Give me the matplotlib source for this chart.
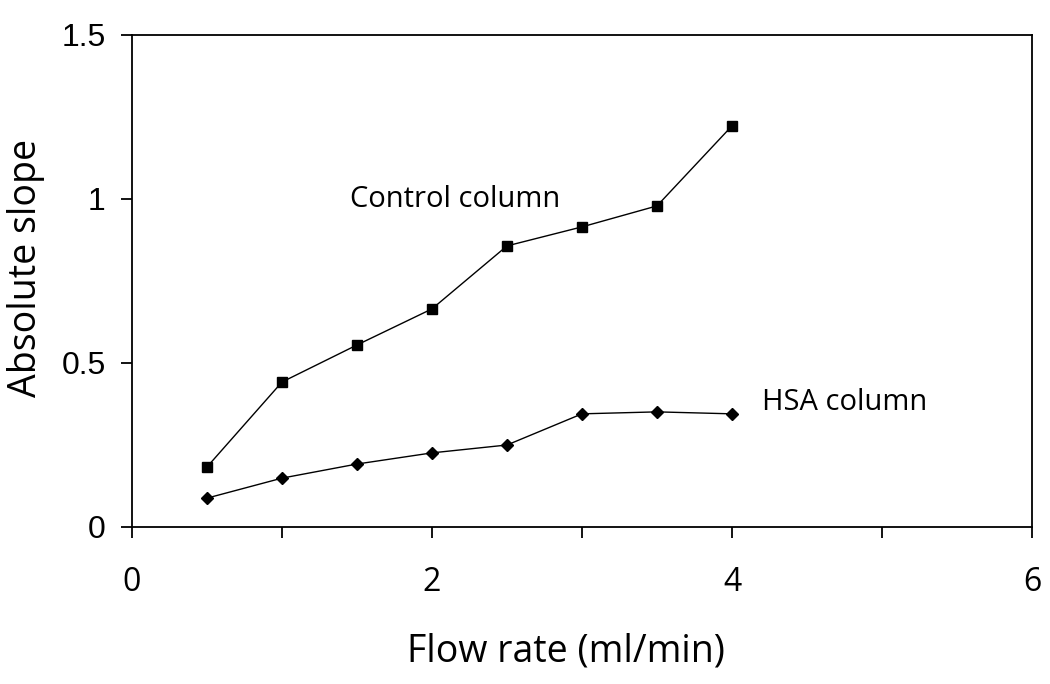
import matplotlib

matplotlib.use("Agg")

import matplotlib.pyplot as plt  # noqa: E402

flow_rate = [0.5, 1.0, 1.5, 2.0, 2.5, 3.0, 3.5, 4.0]
control_slope = [0.183, 0.442, 0.555, 0.665, 0.857, 0.915, 0.979, 1.223]
hsa_slope = [0.088, 0.149, 0.192, 0.226, 0.250, 0.345, 0.351, 0.345]

x_ticks = [0, 1, 2, 3, 4, 5, 6]
x_labels = ["0", "", "2", "", "4", "", "6"]
y_ticks = [0, 0.5, 1.0, 1.5]
y_labels = ["0", "0.5", "1", "1.5"]

fig = plt.figure(figsize=(10.5, 6.84), dpi=100)
ax = fig.add_axes((132 / 1050, 1 - 527 / 684, 900 / 1050, 492 / 684))

ax.plot(flow_rate, control_slope, "-", color="black", lw=1.0,
        marker="s", ms=7.5, mec="black", mfc="black")
ax.plot(flow_rate, hsa_slope, "-", color="black", lw=1.0,
        marker="D", ms=6, mec="black", mfc="black")

# series annotations, Calibri-like face
ax.text(1.45, 0.997, "Control column", fontsize=21, family="Open Sans",
        va="center", ha="left")
ax.text(4.2, 0.381, "HSA column", fontsize=21, family="Open Sans",
        va="center", ha="left")

ax.set_xlim(0, 6)
ax.set_ylim(0, 1.5)
ax.set_xticks(x_ticks)
ax.set_xticklabels(x_labels)
ax.set_yticks(y_ticks)
ax.set_yticklabels(y_labels)

for spine in ax.spines.values():
    spine.set_linewidth(1.3)
ax.tick_params(direction="out", length=8, width=1.3)
ax.tick_params(axis="y", labelsize=23, pad=11)
ax.tick_params(axis="x", labelsize=23, pad=20)
for lbl in ax.get_yticklabels():
    lbl.set_family("Liberation Sans")
for lbl in ax.get_xticklabels():
    lbl.set_family("Open Sans")

ax.set_xlabel("Flow rate (ml/min)", fontsize=27, family="Open Sans")
ax.set_ylabel("Absolute slope", fontsize=27, family="Open Sans")
ax.xaxis.set_label_coords(0.482, -0.2154)
ax.yaxis.set_label_coords(-0.097, 0.526)

fig.savefig("out.png", dpi=100)
